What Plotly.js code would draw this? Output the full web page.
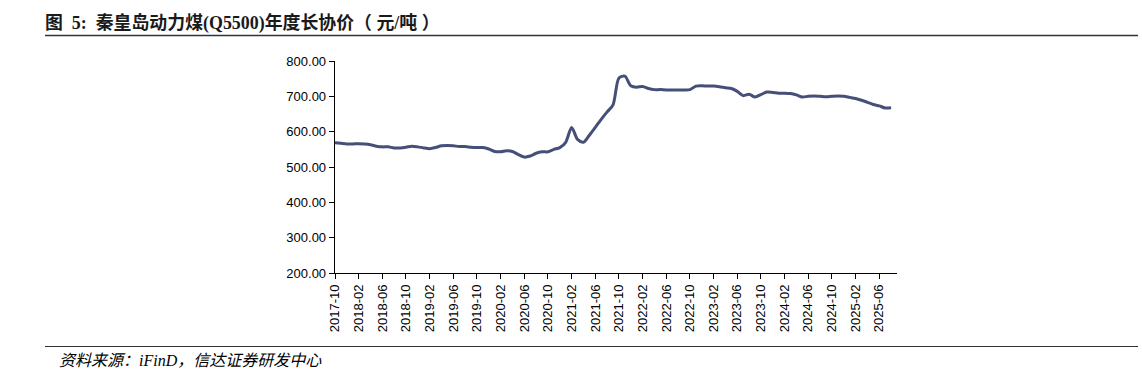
<!DOCTYPE html>
<html>
<head>
<meta charset="utf-8">
<script src="https://cdn.plot.ly/plotly-3.0.1.min.js"></script>
<style>html,body{margin:0;padding:0;background:#fff;}#chart{width:1142px;height:376px;}</style>
</head>
<body>
<div id="chart"></div>
<script>
// Monthly categories 2017-10 .. 2025-08
const months = [];
(function(){ let y=2017, m=10; while(!(y===2025 && m===9)){ months.push(y+'-'+String(m).padStart(2,'0')); m++; if(m>12){m=1;y++;} } })();

const prices = [
  569,567,565,                          // 2017-10..12
  565,566,565,563,559,557,557,554,554,556,559,557, // 2018
  554,552,555,560,561,560,558,558,556,555,555,551, // 2019
  544,543,546,544,535,528,531,539,543,543,550,555, // 2020
  570,612,578,570,590,612,635,656,676,752,757,730, // 2021
  726,728,722,719,719,718,718,718,718,719,729,730, // 2022
  729,729,727,724,722,714,702,706,698,705,712,711, // 2023
  709,709,708,704,698,700,701,700,699,700,701,700, // 2024
  697,694,689,683,677,673,667,668                  // 2025-01..08
];

const tickMonths = months.filter((d,i)=> i%4===0);
const yTicks = [200,300,400,500,600,700,800];

const titleText = '图  5:  秦皇岛动力煤(Q5500)年度长协价（ 元/吨 ）';
const sourceText = '资料来源：iFinD，信达证券研发中心';

const trace = {
  x: months, y: prices, type: 'scatter', mode: 'lines',
  line: {color: '#454F78', width: 3, shape: 'spline', smoothing: 0.8},
  hoverinfo: 'x+y'
};

const L=335, R=897, T=61, B=273;
const W=R-L, H=B-T;
const px = v => (v-L)/W;
const py = v => (B-v)/H;

const layout = {
  width: 1142, height: 376,
  margin: {l: L, r: 1142-R, t: T, b: 376-B, pad: 0},
  paper_bgcolor: '#fff', plot_bgcolor: '#fff',
  showlegend: false,
  font: {family: 'Arial, Liberation Sans, sans-serif', size: 13, color: '#000'},
  xaxis: {
    type: 'category', range: [0, months.length],
    tickmode: 'array', tickvals: tickMonths, ticktext: tickMonths,
    tickangle: -90, ticks: 'outside', ticklen: 5, tickwidth: 1, tickcolor: '#000',
    showline: true, linecolor: '#000', linewidth: 1.3, showgrid: false, zeroline: false,
    tickfont: {family: 'Arial, Liberation Sans, sans-serif', size: 13, color: '#000'}
  },
  yaxis: {
    range: [200, 800], tickmode: 'array', tickvals: yTicks,
    ticktext: yTicks.map(v=>v.toFixed(2)),
    ticks: 'outside', ticklen: 5, tickwidth: 1, tickcolor: '#000',
    showline: true, linecolor: '#000', linewidth: 1.3, showgrid: false, zeroline: false,
    tickfont: {family: 'Arial, Liberation Sans, sans-serif', size: 13, color: '#000'}
  },
  title: {
    text: titleText, xref: 'container', yref: 'container',
    x: 45/1142, xanchor: 'left', y: 1-23/376, yanchor: 'middle',
    font: {family: 'Liberation Serif, Noto Sans CJK SC, serif', size: 17.9, color: '#1a1a1a', weight: 'bold'}
  },
  shapes: [
    {type: 'line', xref: 'paper', yref: 'paper', x0: px(45), x1: px(1138), y0: py(35.5), y1: py(35.5), line: {color: '#333', width: 1.5}},
    {type: 'line', xref: 'paper', yref: 'paper', x0: px(45), x1: px(1138), y0: py(346.5), y1: py(346.5), line: {color: '#333', width: 1.2}}
  ],
  annotations: [
    {text: sourceText, xref: 'paper', yref: 'paper', x: px(57), y: py(360), xanchor: 'left', yanchor: 'middle', showarrow: false,
     font: {family: 'Liberation Serif, Noto Sans CJK SC, serif', size: 16, color: '#000', style: 'italic'}}
  ]
};

Plotly.newPlot('chart', [trace], layout, {displayModeBar: false, staticPlot: true});
</script>
</body>
</html>
